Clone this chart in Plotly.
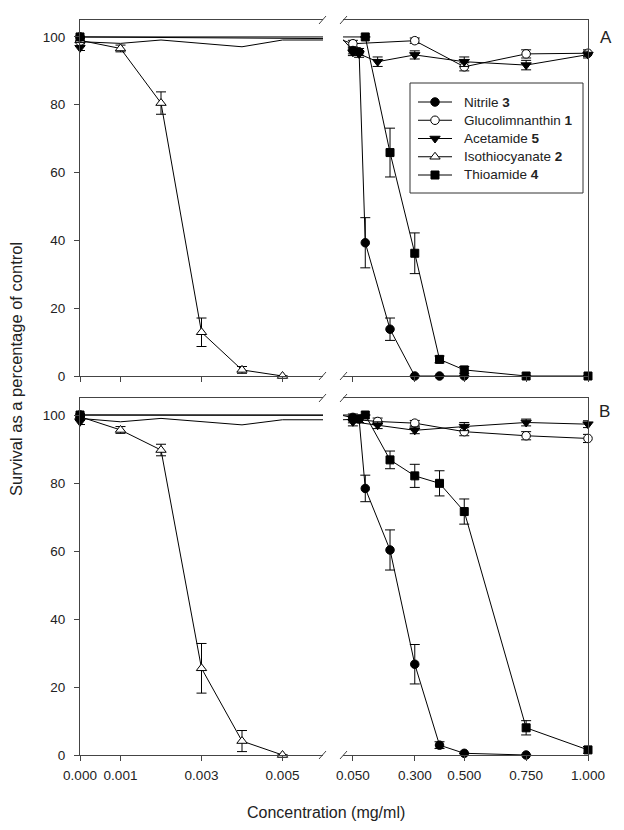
import plotly.graph_objects as go

W, H = 624, 830
FONT = "Liberation Sans, Arial, sans-serif"
INK = "#222222"
AX = "#444444"

# ---------------- data ----------------
# low-concentration x values (mg/ml)
iso_x = [0, 0.001, 0.002, 0.003, 0.004, 0.005]
gluco_low_x = [0.001, 0.002, 0.004, 0.005]

# Panel A
iso_A_y = [99.0, 96.6, 80.5, 12.9, 1.8, 0.0]
iso_A_err = [0.5, 1.0, 3.3, 4.2, 1.0, 0.0]

nit_x = [0, 0.05, 0.075, 0.1, 0.2, 0.3, 0.4, 0.5]
nit_A_y = [100.0, 96.0, 95.6, 39.3, 13.8, 0.0, 0.0, 0.0]
nit_A_err = [0.0, 1.0, 1.0, 7.4, 3.3, 0.0, 0.0, 0.0]

gluco_A_x = [0, 0.05, 0.3, 0.5, 0.75, 1.0]
gluco_A_y = [98.6, 98.0, 98.9, 91.2, 95.0, 95.2]
gluco_A_err = [0.5, 1.0, 0.8, 1.2, 1.2, 1.0]
gluco_A_low_y = [98.1, 99.1, 97.1, 99.1]

acet_A_x = [0, 0.05, 0.075, 0.15, 0.3, 0.5, 0.75, 1.0]
acet_A_y = [96.8, 95.5, 95.0, 92.7, 94.7, 92.7, 91.7, 94.8]
acet_A_err = [0.8, 1.0, 1.0, 1.4, 1.2, 1.4, 1.4, 1.0]

thio_A_x = [0, 0.1, 0.2, 0.3, 0.4, 0.5, 0.75, 1.0]
thio_A_y = [100.0, 100.0, 65.9, 36.2, 4.9, 1.8, 0.0, 0.0]
thio_A_err = [0.0, 0.0, 7.2, 6.0, 1.0, 1.0, 0.0, 0.0]

# Panel B
iso_B_y = [99.5, 95.6, 89.7, 25.5, 4.1, 0.0]
iso_B_err = [0.5, 1.0, 1.7, 7.3, 3.1, 0.0]

nit_B_x = [0, 0.05, 0.075, 0.1, 0.2, 0.3, 0.4, 0.5, 0.75]
nit_B_y = [100.0, 99.3, 98.8, 78.4, 60.3, 26.7, 2.9, 0.5, 0.0]
nit_B_err = [0.5, 1.0, 1.0, 3.9, 5.9, 5.8, 1.0, 0.0, 0.0]

gluco_B_x = [0, 0.05, 0.15, 0.3, 0.5, 0.75, 1.0]
gluco_B_y = [99.0, 98.7, 98.1, 97.6, 95.1, 93.9, 93.1]
gluco_B_err = [0.5, 1.0, 1.0, 0.8, 1.2, 1.2, 1.2]
gluco_B_low_y = [98.0, 99.0, 97.1, 98.6]

acet_B_x = [0, 0.05, 0.15, 0.3, 0.5, 0.75, 1.0]
acet_B_y = [98.0, 98.0, 97.0, 95.5, 96.6, 97.8, 97.3]
acet_B_err = [0.8, 1.2, 1.0, 1.0, 1.2, 1.0, 1.0]

thio_B_x = [0, 0.1, 0.2, 0.3, 0.4, 0.5, 0.75, 1.0]
thio_B_y = [100.0, 100.0, 86.8, 82.1, 79.9, 71.6, 8.0, 1.5]
thio_B_err = [0.0, 0.0, 2.6, 3.4, 3.7, 3.7, 2.1, 1.0]

y_ticks = [0, 20, 40, 60, 80, 100]
left_ticks = [0, 0.001, 0.003, 0.005]
left_ticktext = ["0.000", "0.001", "0.003", "0.005"]
right_ticks = [0.05, 0.3, 0.5, 0.75, 1.0]
right_ticktext = ["0.050", "0.300", "0.500", "0.750", "1.000"]

legend_names = ["Nitrile <b>3</b>", "Glucolimnanthin <b>1</b>", "Acetamide <b>5</b>",
                "Isothiocyanate <b>2</b>", "Thioamide <b>4</b>"]
legend_keys = ["nit", "gluco", "acet", "iso", "thio"]

# ---------------- styles ----------------
sty = {
    "nit": dict(symbol="circle", color="black", size=8.5),
    "gluco": dict(symbol="circle", color="white", size=8.5),
    "acet": dict(symbol="triangle-down", color="black", size=9),
    "iso": dict(symbol="triangle-up", color="white", size=9),
    "thio": dict(symbol="square", color="black", size=8),
}

LEFT_MAX = 0.006
RIGHT_MIN = 0.01

# pixel layout
LX0, LX1 = 80, 323
RX0, RX1 = 343, 588
PANELS = {"A": (20, 376), "B": (398, 755)}

fig = go.Figure()


def add_series(panel, key, xs, ys, errs, line_x=None, line_y=None):
    ax_left = {"A": ("x", "y"), "B": ("x3", "y3")}[panel]
    ax_right = {"A": ("x2", "y2"), "B": ("x4", "y4")}[panel]
    lx = line_x if line_x is not None else xs
    ly = line_y if line_y is not None else ys
    for (xa, ya), side in ((ax_left, "L"), (ax_right, "R")):
        fig.add_trace(go.Scatter(x=lx, y=ly, mode="lines", xaxis=xa, yaxis=ya,
                                 line=dict(color="black", width=1), showlegend=False,
                                 hoverinfo="skip", cliponaxis=True))
        if side == "L":
            idx = [i for i, v in enumerate(xs) if v <= LEFT_MAX]
        else:
            idx = [i for i, v in enumerate(xs) if v >= RIGHT_MIN]
        if not idx:
            continue
        s = sty[key]
        fig.add_trace(go.Scatter(
            x=[xs[i] for i in idx], y=[ys[i] for i in idx], mode="markers",
            xaxis=xa, yaxis=ya, showlegend=False, cliponaxis=False,
            marker=dict(symbol=s["symbol"], size=s["size"], color=s["color"],
                        line=dict(color="black", width=1)),
            error_y=dict(type="data", array=[errs[i] for i in idx], visible=True,
                         color="black", thickness=1, width=5)))


for panel, d in (
    ("A", dict(iso=(iso_x, iso_A_y, iso_A_err),
               gluco=(gluco_A_x, gluco_A_y, gluco_A_err, gluco_A_low_y),
               acet=(acet_A_x, acet_A_y, acet_A_err),
               thio=(thio_A_x, thio_A_y, thio_A_err),
               nit=(nit_x, nit_A_y, nit_A_err))),
    ("B", dict(iso=(iso_x, iso_B_y, iso_B_err),
               gluco=(gluco_B_x, gluco_B_y, gluco_B_err, gluco_B_low_y),
               acet=(acet_B_x, acet_B_y, acet_B_err),
               thio=(thio_B_x, thio_B_y, thio_B_err),
               nit=(nit_B_x, nit_B_y, nit_B_err))),
):
    gx, gy, ge, glow = d["gluco"]
    add_series(panel, "gluco", gx, gy, ge,
               line_x=[gx[0]] + gluco_low_x + gx[1:],
               line_y=[gy[0]] + glow + gy[1:])
    ax_, ay_, ae_ = d["acet"]
    # the acetamide control point is drawn without a connecting line across the break
    add_series(panel, "acet", ax_, ay_, ae_, line_x=ax_[1:], line_y=ay_[1:])
    add_series(panel, "iso", *d["iso"])
    add_series(panel, "thio", *d["thio"])
    add_series(panel, "nit", *d["nit"])

# ---------------- hand-placed legend (pixel overlay axes) ----------------
LEG_BOX = (410, 83, 583, 193)
LEG_ROW0, LEG_DY = 102, 18.25
for i, (name, key) in enumerate(zip(legend_names, legend_keys)):
    yy = LEG_ROW0 + i * LEG_DY
    s = sty[key]
    fig.add_trace(go.Scatter(x=[418, 452], y=[yy, yy], mode="lines", xaxis="x5", yaxis="y5",
                             line=dict(color="black", width=1), showlegend=False,
                             hoverinfo="skip"))
    fig.add_trace(go.Scatter(x=[435], y=[yy], mode="markers", xaxis="x5", yaxis="y5",
                             showlegend=False, hoverinfo="skip", cliponaxis=False,
                             marker=dict(symbol=s["symbol"], size=s["size"], color=s["color"],
                                         line=dict(color="black", width=1))))


def xd(a, b):
    return [a / W, b / W]


def yd(top, bot):
    return [1 - bot / H, 1 - top / H]


tickfont = dict(family=FONT, size=13.5, color=INK)
common_x = dict(showline=True, linecolor=AX, linewidth=1, mirror=True, ticks="outside",
                ticklen=5, tickcolor=AX, showgrid=False, zeroline=False, tickfont=tickfont,
                ticklabelstandoff=3)
layout = dict(width=W, height=H, autosize=False,
              margin=dict(l=0, r=0, t=0, b=0, pad=0, autoexpand=False),
              paper_bgcolor="white", plot_bgcolor="rgba(0,0,0,0)", showlegend=False,
              font=dict(family=FONT, color=INK))

for panel, (xl, xr, yl, yr) in (("A", ("xaxis", "xaxis2", "yaxis", "yaxis2")),
                                ("B", ("xaxis3", "xaxis4", "yaxis3", "yaxis4"))):
    top, bot = PANELS[panel]
    show = panel == "B"
    ylname = yl.replace("axis", "")
    yrname = yr.replace("axis", "")
    layout[xl] = dict(common_x, domain=xd(LX0, LX1), range=[0, LEFT_MAX], anchor=ylname,
                      tickvals=left_ticks, ticktext=left_ticktext, showticklabels=show)
    layout[xr] = dict(common_x, domain=xd(RX0, RX1), range=[RIGHT_MIN, 1.0], anchor=yrname,
                      tickvals=right_ticks, ticktext=right_ticktext, showticklabels=show)
    layout[yl] = dict(domain=yd(top, bot), range=[0, 105], anchor=xl.replace("axis", ""),
                      showline=True, linecolor=AX, linewidth=1, ticks="outside", ticklen=5,
                      tickcolor=AX, tickvals=y_ticks, showgrid=False, zeroline=False,
                      tickfont=tickfont, ticklabelstandoff=6)
    layout[yr] = dict(domain=yd(top, bot), range=[0, 105], anchor=xr.replace("axis", ""),
                      side="right", showline=True, linecolor=AX, linewidth=1, ticks="",
                      showticklabels=False, showgrid=False, zeroline=False)

layout["xaxis5"] = dict(domain=[0, 1], range=[0, W], visible=False, anchor="y5",
                        fixedrange=True)
layout["yaxis5"] = dict(domain=[0, 1], range=[H, 0], visible=False, anchor="x5",
                        fixedrange=True)

fig.update_layout(**layout)

# axis break marks + legend frame
shapes = []
for panel, (top, bot) in PANELS.items():
    for yy in (top, bot):
        for x0 in (319, 340):
            shapes.append(dict(type="line", xref="paper", yref="paper",
                               x0=x0 / W, y0=1 - (yy + 4) / H,
                               x1=(x0 + 7) / W, y1=1 - (yy - 4) / H,
                               line=dict(color=AX, width=1)))
bx0, by0, bx1, by1 = LEG_BOX
shapes.append(dict(type="rect", xref="paper", yref="paper",
                   x0=bx0 / W, x1=bx1 / W, y0=1 - by1 / H, y1=1 - by0 / H,
                   line=dict(color="#333333", width=1), fillcolor="rgba(0,0,0,0)",
                   layer="above"))
fig.update_layout(shapes=shapes)

ann = [
    dict(text="A", x=606 / W, y=1 - 37 / H, xref="paper", yref="paper", showarrow=False,
         font=dict(family=FONT, size=17, color=INK), xanchor="center", yanchor="middle"),
    dict(text="B", x=604 / W, y=1 - 411 / H, xref="paper", yref="paper", showarrow=False,
         font=dict(family=FONT, size=17, color=INK), xanchor="center", yanchor="middle"),
    dict(text="Survival as a percentage of control", x=16 / W, y=1 - 369 / H, xref="paper",
         yref="paper", showarrow=False, textangle=-90,
         font=dict(family=FONT, size=16.5, color=INK), xanchor="center", yanchor="middle"),
    dict(text="Concentration (mg/ml)", x=326 / W, y=1 - 812 / H, xref="paper", yref="paper",
         showarrow=False, font=dict(family=FONT, size=16, color=INK),
         xanchor="center", yanchor="middle"),
]
for i, name in enumerate(legend_names):
    ann.append(dict(text=name, x=462 / W, y=1 - (LEG_ROW0 + i * LEG_DY) / H,
                    xref="paper", yref="paper", showarrow=False, xanchor="left",
                    yanchor="middle", font=dict(family=FONT, size=13.5, color=INK)))
fig.update_layout(annotations=ann)

# let the 624x830 figure sit flush in the 624x830 window (no default page margin)
fig.write_html("out.html",
               config={"displayModeBar": False, "staticPlot": True},
               post_script="document.body.style.margin='0px';"
                           "document.body.style.overflow='hidden';")
